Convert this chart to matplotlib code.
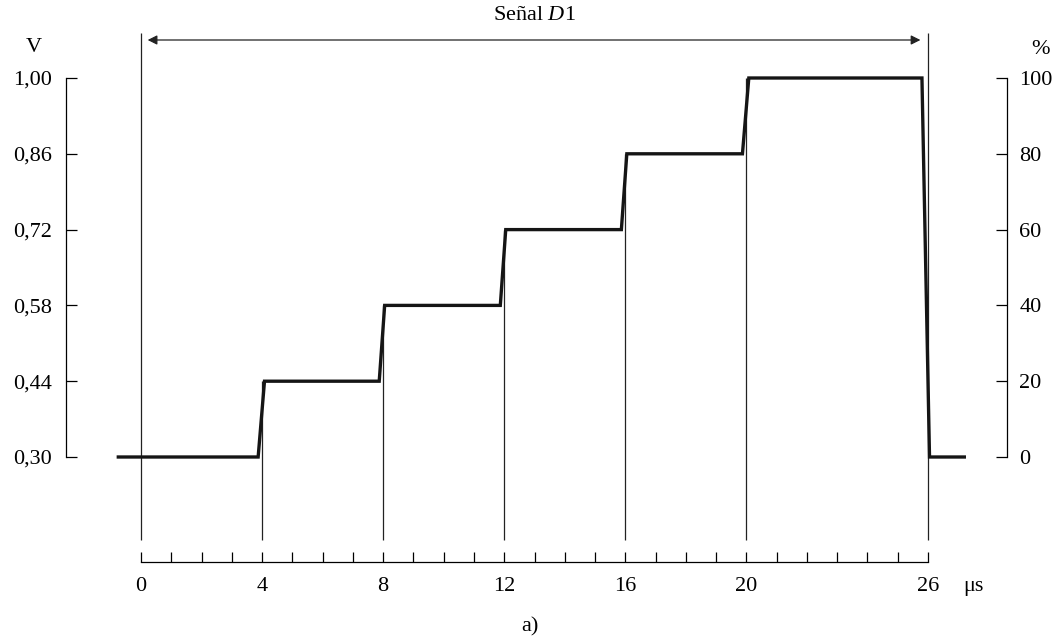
import matplotlib
matplotlib.use("Agg")
import matplotlib.pyplot as plt

plt.rcParams['font.family'] = ['Liberation Serif', 'DejaVu Serif']
plt.rcParams['mathtext.fontset'] = 'custom'
plt.rcParams['mathtext.rm'] = 'Liberation Serif'
plt.rcParams['mathtext.it'] = 'Liberation Serif:italic'

# waveform (time in us, level in V)
wave_t = [-0.75, 3.87, 4.08, 7.87, 8.05, 11.87, 12.05, 15.87, 16.05, 19.87, 20.08, 25.8, 26.05, 27.2]
wave_v = [0.30, 0.30, 0.44, 0.44, 0.58, 0.58, 0.72, 0.72, 0.86, 0.86, 1.00, 1.00, 0.30, 0.30]

# step edges and the level each marker line starts from
edge_t = [4, 8, 12, 16, 20]
edge_v = [0.44, 0.58, 0.72, 0.86, 1.00]

v_ticks = [0.30, 0.44, 0.58, 0.72, 0.86, 1.00]
v_labels = ["0,30", "0,44", "0,58", "0,72", "0,86", "1,00"]
pct_ticks = [0, 20, 40, 60, 80, 100]
t_ticks = list(range(0, 27))
t_labeled = [0, 4, 8, 12, 16, 20, 26]

FS = 16
W, H = 1060, 642
fig = plt.figure(figsize=(W / 100, H / 100), dpi=100)

# axes box: left spine at x=66, right spine at x=1007, V=0.30 at y=457, V=1.00 at y=78
x0, x1 = 66, 1007
y_top, y_bot = 78, 457
ax = fig.add_axes([x0 / W, 1 - y_bot / H, (x1 - x0) / W, (y_bot - y_top) / H])
px_per_us = (928 - 141) / 26.0
ax.set_xlim((x0 - 141) / px_per_us, (x1 - 141) / px_per_us)
ax.set_ylim(0.30, 1.00)
v_per_px = 0.70 / (y_bot - y_top)

ax.plot(wave_t, wave_v, color='#151515', lw=2.4, solid_joinstyle='miter', zorder=3, clip_on=False)

y_low = 0.30 - (540 - y_bot) * v_per_px
y_high = 1.00 + (y_top - 33) * v_per_px
ax.vlines(edge_t, [y_low] * len(edge_t), edge_v, color='#222222', lw=0.9, clip_on=False)
ax.vlines([0, 26], y_low, y_high, color='#222222', lw=0.9, clip_on=False)

# double arrow for the signal span
y_arrow = 1.00 + (y_top - 40) * v_per_px
ax.annotate('', xy=(25.75, y_arrow), xytext=(0.22, y_arrow),
            arrowprops=dict(arrowstyle='<|-|>', color='#222222', lw=0.9,
                            mutation_scale=14, shrinkA=0, shrinkB=0),
            annotation_clip=False)
ax.text(13.0, 1.00 + (y_top - 15) * v_per_px, r'Señal $D$1', ha='center', va='center',
        fontsize=FS, clip_on=False)

# left V axis
ax.spines['top'].set_visible(False)
ax.spines['right'].set_visible(False)
ax.spines['left'].set_linewidth(0.9)
ax.set_yticks(v_ticks)
ax.set_yticklabels(v_labels)
ax.tick_params(axis='y', direction='in', length=8, width=0.9, pad=10, labelsize=FS)

# time axis below
ax.spines['bottom'].set_position(('outward', (562 - y_bot) * 0.72))
ax.spines['bottom'].set_bounds(0, 26)
ax.spines['bottom'].set_linewidth(0.9)
ax.set_xticks(t_ticks)
ax.set_xticklabels([str(t) if t in t_labeled else '' for t in t_ticks])
ax.tick_params(axis='x', direction='in', length=7, width=0.9, pad=11, labelsize=FS)

# right % axis
ax2 = ax.twinx()
ax2.set_ylim(0, 100)
for s in ['top', 'bottom', 'left']:
    ax2.spines[s].set_visible(False)
ax2.spines['right'].set_linewidth(0.9)
ax2.set_yticks(pct_ticks)
ax2.tick_params(axis='y', direction='in', length=8, width=0.9, pad=9, labelsize=FS)

fig.text(34 / W, 1 - 48 / H, 'V', ha='center', va='center', fontsize=FS)
fig.text(1040 / W, 1 - 50 / H, '%', ha='center', va='center', fontsize=FS)
fig.text(973 / W, 1 - 591 / H, 'μs', ha='center', va='baseline', fontsize=FS)
fig.text(530 / W, 1 - 627 / H, 'a)', ha='center', va='center', fontsize=FS)

fig.savefig('out.png', dpi=100)
